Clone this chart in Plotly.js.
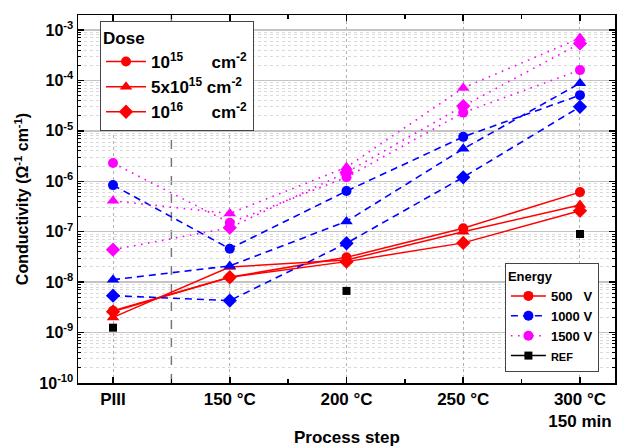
<!DOCTYPE html>
<html>
<head>
<meta charset="utf-8">
<script src="https://cdn.plot.ly/plotly-3.0.1.min.js"></script>
<style>html,body{margin:0;padding:0;background:#fff;}#chart{width:620px;height:447px;}</style>
</head>
<body>
<div id="chart"></div>
<script>
// Categories (process steps)
const steps = [0, 1, 2, 3, 4];
const stepLabels = ['PIII', '150 °C', '200 °C', '250 °C', '300 °C<br>150 min'];

// 500 V (red)
const v500_d1e15 = [2.7e-9, 1.25e-8, 3.1e-8, 1.17e-7, 6.1e-7];
const v500_d5e15 = [2.0e-9, 2.0e-8, 2.75e-8, 1.0e-7, 3.4e-7];
const v500_d1e16 = [2.6e-9, 1.25e-8, 2.55e-8, 6.0e-8, 2.6e-7];
// 1000 V (blue)
const v1000_d1e15 = [8.4e-7, 4.6e-8, 6.4e-7, 7.6e-6, 5.1e-5];
const v1000_d5e15 = [1.12e-8, 2.1e-8, 1.6e-7, 4.4e-6, 8.8e-5];
const v1000_d1e16 = [5.4e-9, 4.3e-9, 5.9e-8, 1.2e-6, 3.0e-5];
// 1500 V (magenta)
const v1500_d1e15 = [2.3e-6, 1.5e-7, 1.2e-6, 2.3e-5, 1.6e-4];
const v1500_d5e15 = [4.1e-7, 2.3e-7, 1.9e-6, 7.1e-5, 6.9e-4];
const v1500_d1e16 = [4.4e-8, 1.2e-7, 1.5e-6, 3.1e-5, 5.4e-4];
// Reference
const refVals = [1.25e-9, null, 6.7e-9, null, 9.0e-8];

// Axis ticks
const yTickVals = [1e-10, 1e-9, 1e-8, 1e-7, 1e-6, 1e-5, 1e-4, 1e-3];
const yTickText = ['10<sup>-10</sup>', '10<sup>-9</sup>', '10<sup>-8</sup>', '10<sup>-7</sup>', '10<sup>-6</sup>', '10<sup>-5</sup>', '10<sup>-4</sup>', '10<sup>-3</sup>'];

// Legend labels
const doseLabels = ['10<sup>15</sup>&nbsp;&nbsp;&nbsp;&nbsp;&nbsp;&nbsp;cm<sup>-2</sup>', '5x10<sup>15</sup> cm<sup>-2</sup>', '10<sup>16</sup>&nbsp;&nbsp;&nbsp;&nbsp;&nbsp;&nbsp;cm<sup>-2</sup>'];
const energyLabels = ['500&nbsp;&nbsp;&nbsp;V', '1000 V', '1500 V', '<span style="font-size:11px">REF</span>'];

const FONT = 'Liberation Sans, Arial, sans-serif';
const RED = '#ff0000', BLUE = '#0000ff', MAG = '#ff00ff';
const DASH_BLUE = '7px,5px', DOT_MAG = '1.6px,5.5px';
const symbols = ['circle', 'triangle-up', 'diamond'];
const symSize = [10, 11, 11];

const traces = [];
function series(vals, color, dash, sym, size, width) {
  traces.push({
    x: steps, y: vals, type: 'scatter', mode: 'lines+markers', showlegend: false,
    line: {color: color, dash: dash, width: width},
    marker: {symbol: sym, size: size, color: color},
    connectgaps: true
  });
}
const redSets = [v500_d1e15, v500_d5e15, v500_d1e16];
const blueSets = [v1000_d1e15, v1000_d5e15, v1000_d1e16];
const magSets = [v1500_d1e15, v1500_d5e15, v1500_d1e16];
redSets.forEach((v, i) => series(v, RED, 'solid', symbols[i], symSize[i], 1.5));
blueSets.forEach((v, i) => series(v, BLUE, DASH_BLUE, symbols[i], symSize[i], 1.6));
magSets.forEach((v, i) => series(v, MAG, DOT_MAG, symbols[i], symSize[i], 1.6));
traces.push({
  x: steps, y: refVals, type: 'scatter', mode: 'markers', showlegend: false,
  marker: {symbol: 'square', size: 8, color: '#000'}
});

// Dose legend entries
doseLabels.forEach((lab, i) => traces.push({
  x: [null], y: [null], type: 'scatter', mode: 'lines+markers', name: lab, legend: 'legend',
  line: {color: RED, width: 1.5}, marker: {symbol: symbols[i], size: symSize[i], color: RED}
}));
// Energy legend entries
const eColors = [RED, BLUE, MAG, '#000'];
const eDash = ['solid', DASH_BLUE, DOT_MAG, 'solid'];
const eSym = ['circle', 'circle', 'circle', 'square'];
energyLabels.forEach((lab, i) => traces.push({
  x: [null], y: [null], type: 'scatter', mode: 'lines+markers', name: lab, legend: 'legend2',
  line: {color: eColors[i], dash: eDash[i], width: 1.5},
  marker: {symbol: eSym[i], size: i === 3 ? 8 : 10, color: eColors[i]}
}));

// minor tick positions for log axis (2..9 per decade)
const yMinor = [];
for (let d = -10; d <= -3; d++) for (let k = 2; k <= 9; k++) yMinor.push(k * Math.pow(10, d));

const layout = {
  width: 620, height: 447,
  margin: {l: 78, r: 5, t: 15, b: 64},
  paper_bgcolor: '#fff', plot_bgcolor: '#fff',
  font: {family: FONT, size: 16, color: '#000', weight: 'bold'},
  xaxis: {
    range: [-0.3, 4.3], tickmode: 'array', tickvals: steps, ticktext: stepLabels,
    ticks: 'inside', ticklen: 6, tickwidth: 1.5, tickcolor: '#000',
    showline: true, linecolor: '#000', linewidth: 1.5, mirror: 'allticks',
    showgrid: true, gridcolor: '#b0b0b0', griddash: 'dot', gridwidth: 1,
    zeroline: false,
    tickfont: {family: FONT, size: 17, weight: 'bold'},
    minor: {tickmode: 'array', tickvals: [0.5, 1.5, 2.5, 3.5], ticks: 'inside', ticklen: 4, tickwidth: 1.5, tickcolor: '#000', showgrid: false}
  },
  yaxis: {
    type: 'log', range: [-10, -2.703], tickmode: 'array', tickvals: yTickVals, ticktext: yTickText,
    ticks: 'inside', ticklen: 6, tickwidth: 1.5, tickcolor: '#000',
    showline: true, linecolor: '#000', linewidth: 1.5, mirror: 'allticks',
    showgrid: true, gridcolor: '#c4c4c4', gridwidth: 1.5,
    zeroline: false,
    tickfont: {family: FONT, size: 16, weight: 'bold'},
    title: {text: 'Conductivity (Ω<sup>-1</sup> cm<sup>-1</sup>)', font: {family: FONT, size: 16, weight: 'bold'}, standoff: 6},
    minor: {tickmode: 'array', tickvals: yMinor, ticks: 'inside', ticklen: 3, tickwidth: 1, tickcolor: '#000', showgrid: true, gridcolor: '#dadada', griddash: 'dot', gridwidth: 1}
  },
  shapes: [{
    type: 'line', xref: 'x', yref: 'paper', x0: 0.5, x1: 0.5, y0: 0, y1: 1,
    line: {color: '#777', width: 1.5, dash: 'dash'}, layer: 'below'
  }],
  annotations: [{
    text: 'Process step', xref: 'paper', yref: 'paper', x: 0.5, y: -0.149,
    xanchor: 'center', yanchor: 'middle', showarrow: false,
    font: {family: FONT, size: 17, weight: 'bold'}
  }],
  legend: {
    title: {text: 'Dose', font: {family: FONT, size: 17, weight: 'bold'}},
    font: {family: FONT, size: 17, weight: 'bold'},
    x: 0.041, y: 0.984, xanchor: 'left', yanchor: 'top',
    bgcolor: '#fff', bordercolor: '#444', borderwidth: 1,
    itemwidth: 40, tracegroupgap: 0
  },
  legend2: {
    title: {text: 'Energy', font: {family: FONT, size: 13, weight: 'bold'}},
    font: {family: FONT, size: 13, weight: 'bold'},
    x: 0.795, y: 0.326, xanchor: 'left', yanchor: 'top',
    bgcolor: '#fff', bordercolor: '#444', borderwidth: 1,
    itemwidth: 35, tracegroupgap: 0
  }
};

Plotly.newPlot('chart', traces, layout, {displayModeBar: false, staticPlot: true});
</script>
</body>
</html>
